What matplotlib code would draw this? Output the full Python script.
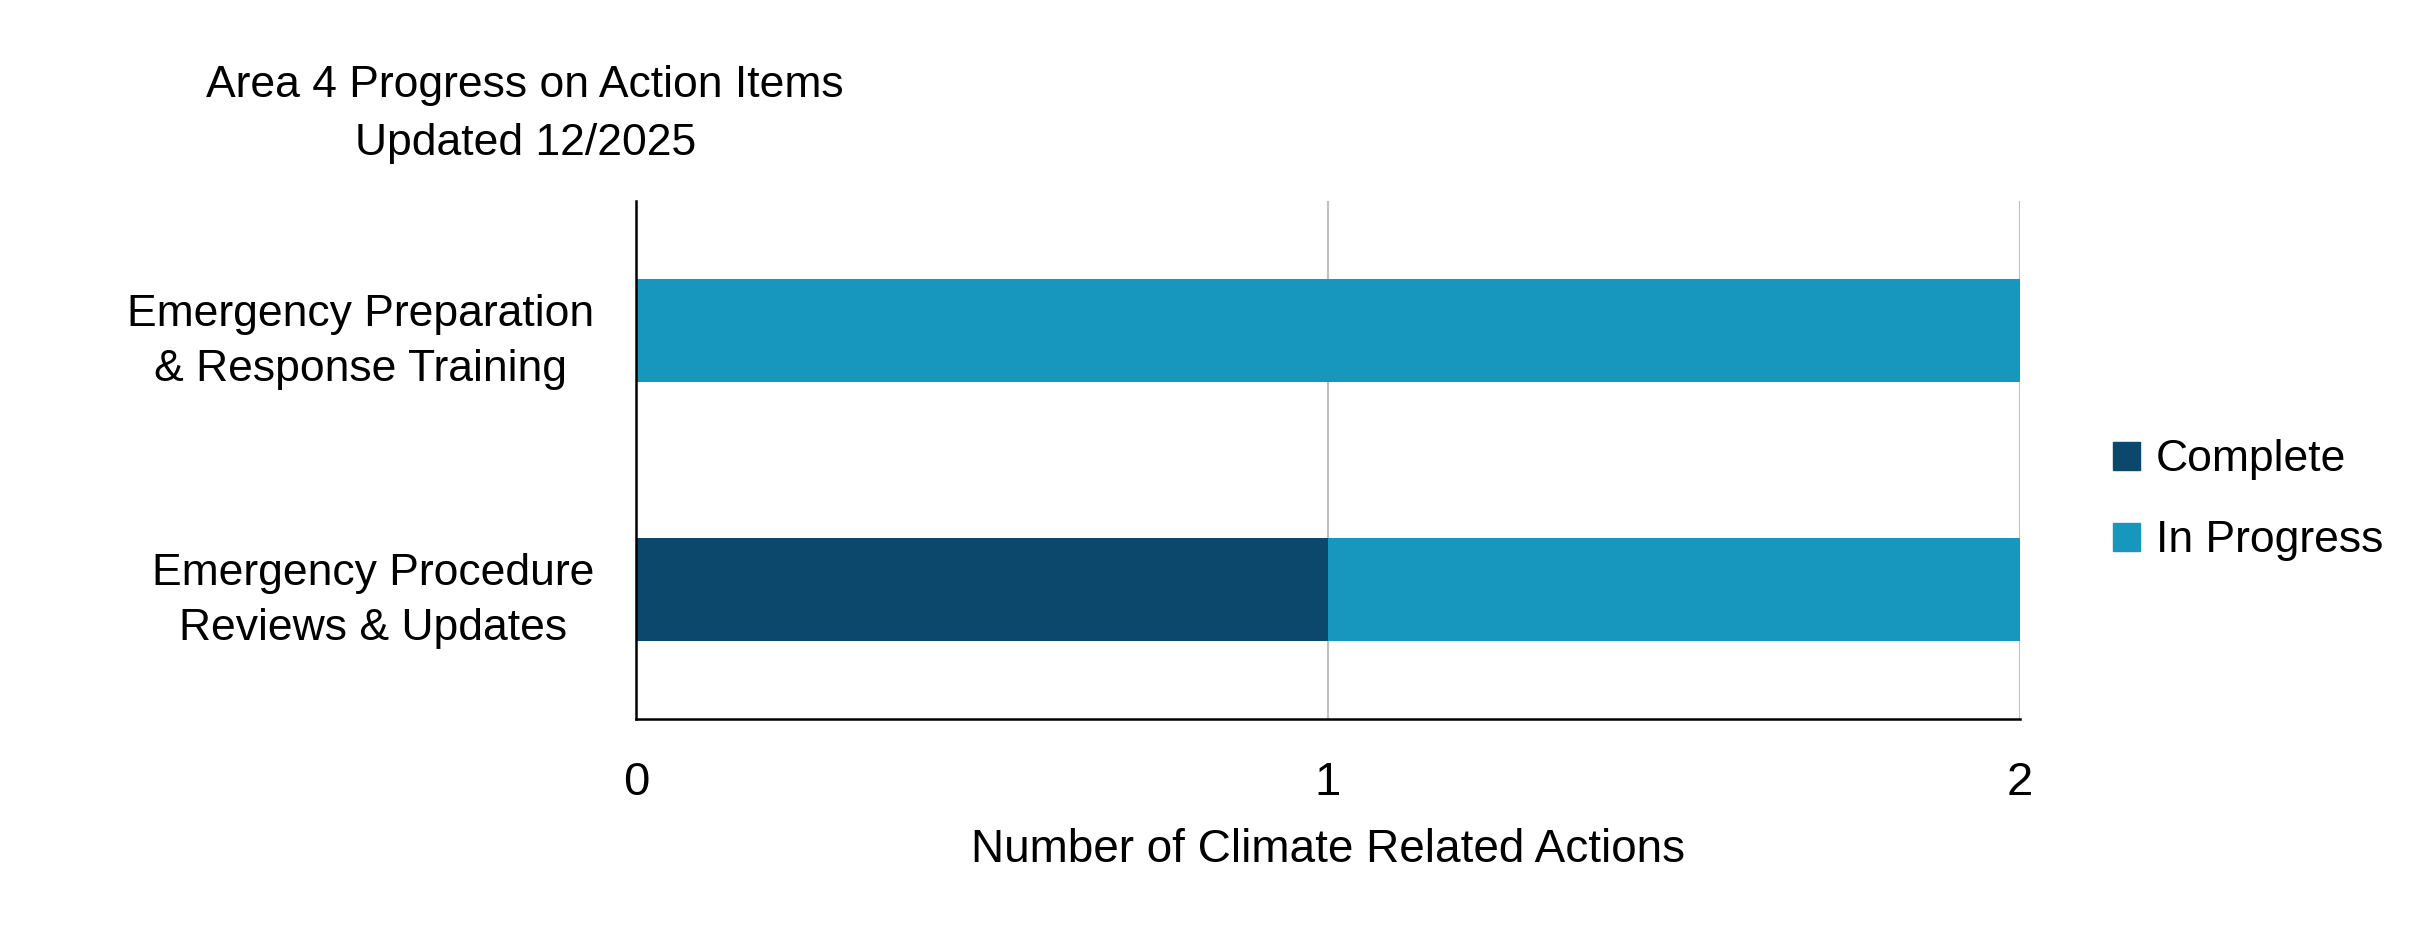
import matplotlib.pyplot as plt
from matplotlib.patches import Patch

plt.rcParams['font.family'] = ['Liberation Sans', 'DejaVu Sans']

# data, bottom row first
categories = ['Emergency Procedure\nReviews & Updates',
              'Emergency Preparation\n& Response Training']
complete = [1, 0]
in_progress = [1, 2]
x_ticks = [0, 1, 2]

c_complete = '#0C476C'
c_progress = '#1796BE'

fig = plt.figure(figsize=(24.2, 9.25), dpi=100)
ax = fig.add_axes([0.2628, 0.2227, 0.5719, 0.56])

y = list(range(len(categories)))
ax.barh(y, complete, height=0.4, color=c_complete, label='Complete', zorder=3)
ax.barh(y, in_progress, height=0.4, left=complete, color=c_progress,
        label='In Progress', zorder=3)

ax.set_xlim(0, 2)
ax.set_ylim(-0.5, 1.5)
ax.set_xticks(x_ticks)
ax.set_yticks(y)
ax.set_yticklabels(categories, multialignment='center', linespacing=1.45)
ax.tick_params(axis='both', length=0, labelsize=32)
ax.tick_params(axis='x', pad=30, labelsize=34)
ax.tick_params(axis='y', pad=30)

ax.grid(axis='x', color='#BFBFBF', linewidth=1.5, zorder=0)
ax.grid(axis='y', visible=False)
for side in ['top', 'right']:
    ax.spines[side].set_visible(False)
ax.spines['left'].set_linewidth(1.8)
ax.spines['bottom'].set_linewidth(1.8)
ax.spines['left'].set_zorder(4)

ax.set_xlabel('Number of Climate Related Actions', fontsize=33, labelpad=17)

fig.text(0.217, 0.876, 'Area 4 Progress on Action Items\nUpdated 12/2025',
         ha='center', va='center', fontsize=32, linespacing=1.55)

handles = [Patch(color=c_complete, label='Complete'),
           Patch(color=c_progress, label='In Progress')]
fig.legend(handles=handles, loc='center left', bbox_to_anchor=(0.866, 0.459),
           frameon=False, fontsize=32, handlelength=0.6, handleheight=0.6,
           handletextpad=0.35, labelspacing=0.9, borderaxespad=0)

plt.savefig('out.png', dpi=100)
